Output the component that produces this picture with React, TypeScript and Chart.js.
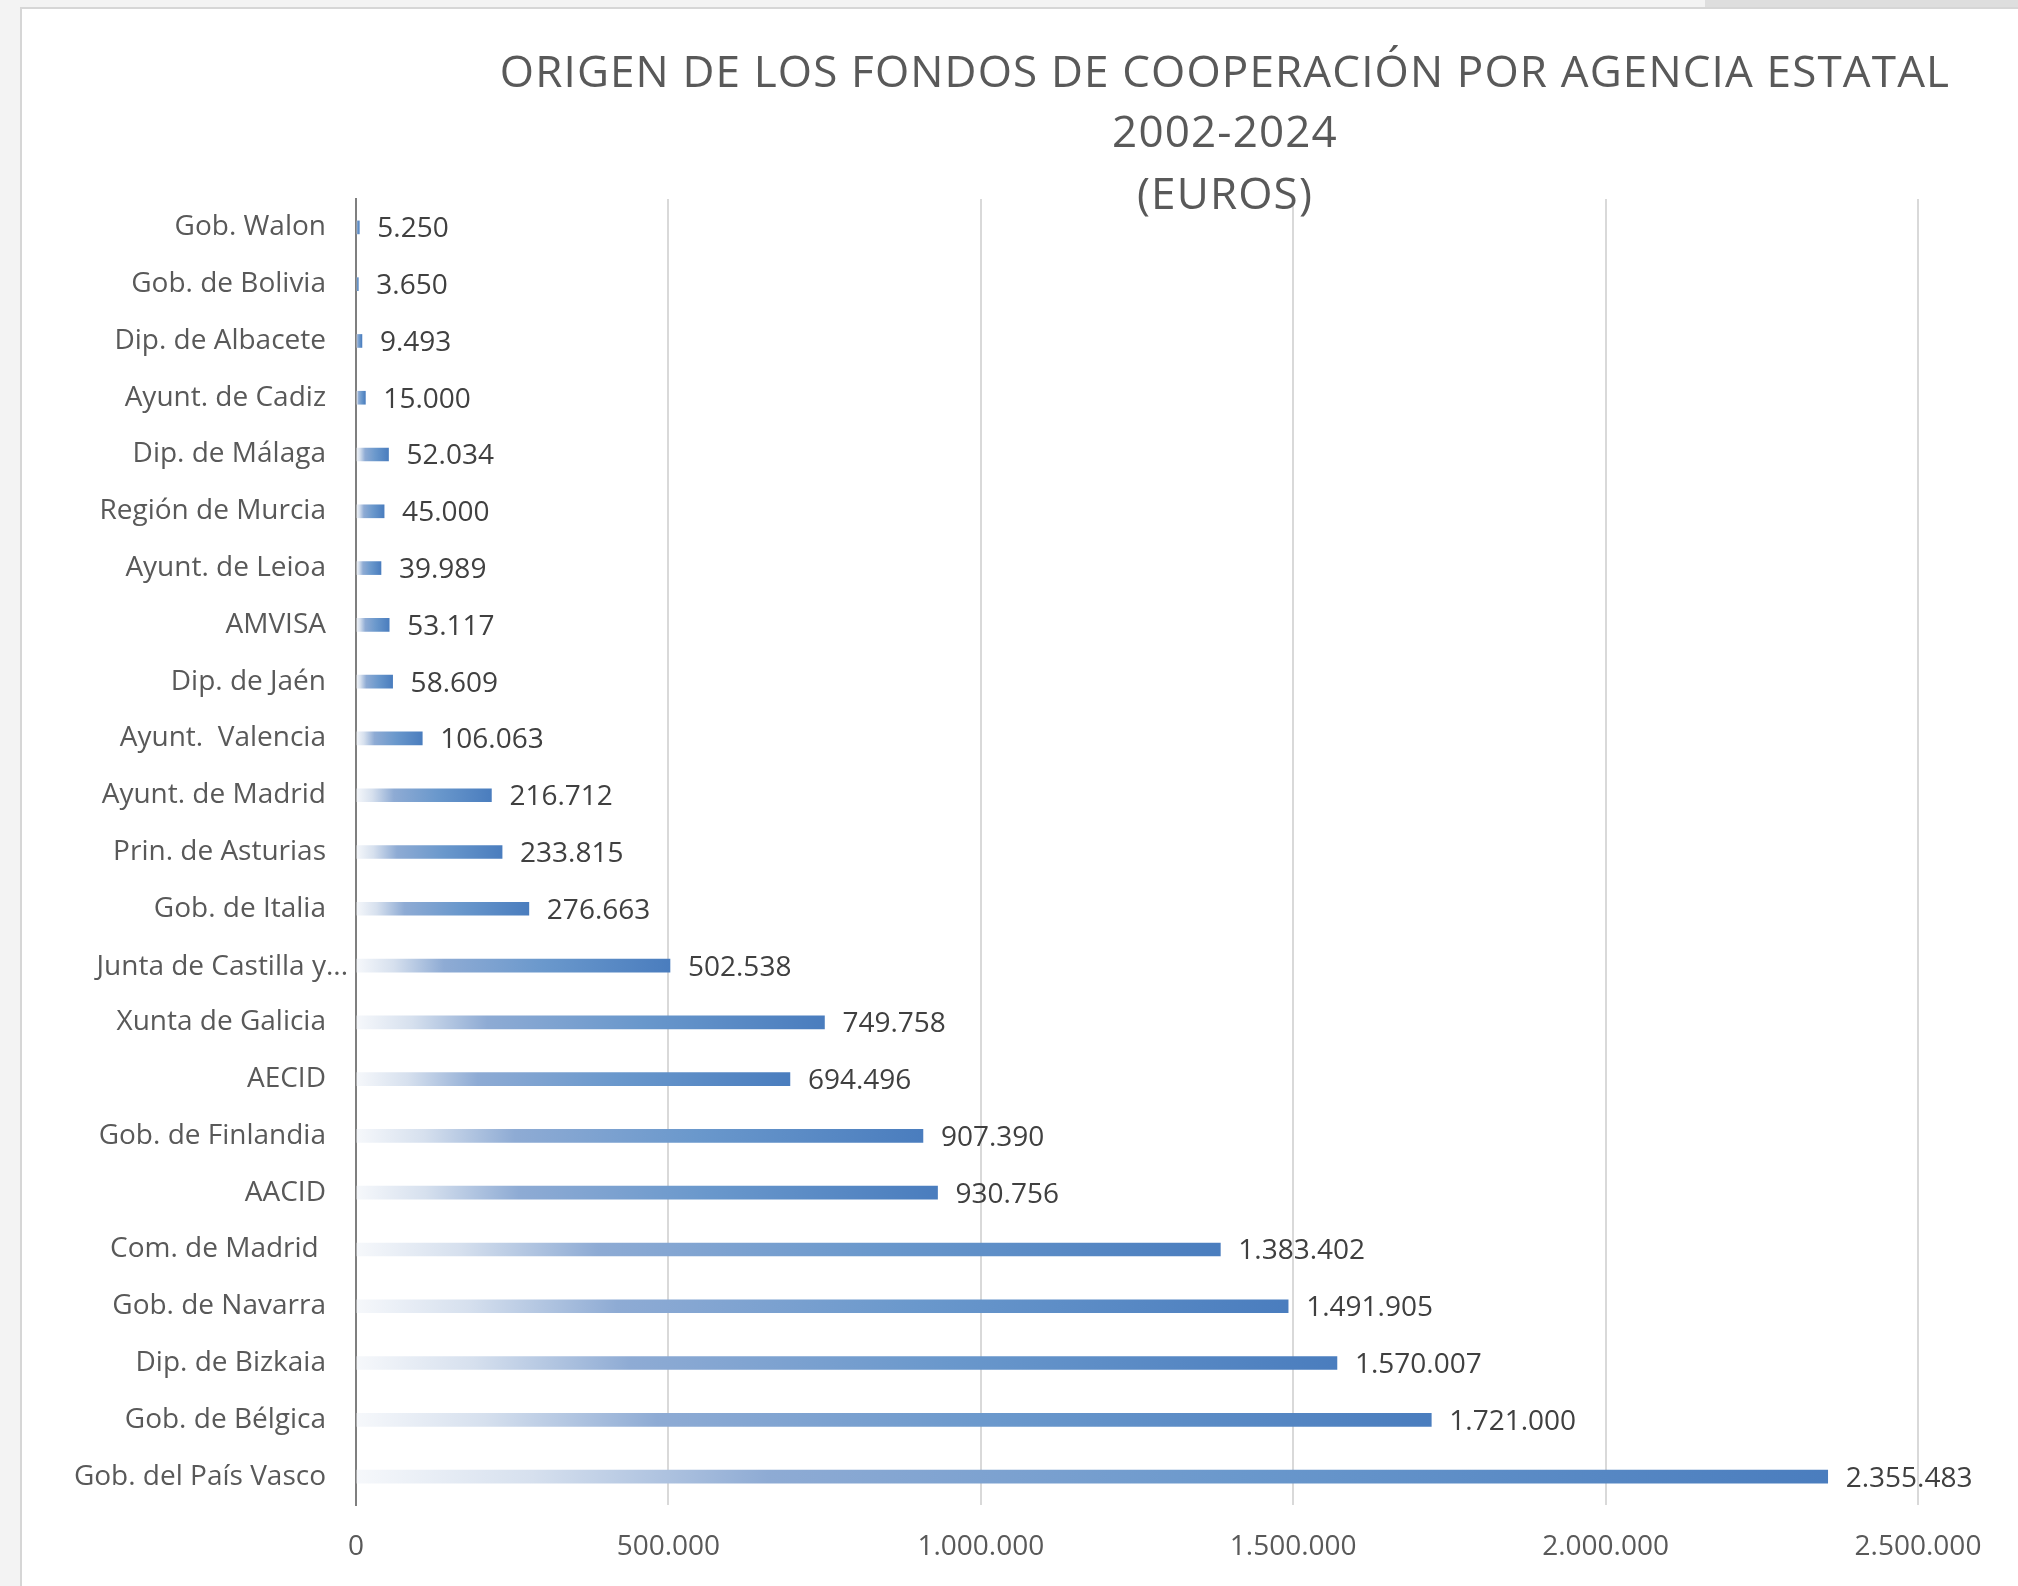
import React, { useEffect, useRef } from 'react';
import { Chart, registerables } from 'chart.js';

Chart.register(...registerables);

const TITLE_LINES = [
  'ORIGEN DE LOS FONDOS DE COOPERACIÓN POR AGENCIA ESTATAL',
  '2002-2024',
  '(EUROS)',
];

const CATEGORIES = [
  'Gob. Walon',
  'Gob. de Bolivia',
  'Dip. de Albacete',
  'Ayunt. de Cadiz',
  'Dip. de Málaga',
  'Región de Murcia',
  'Ayunt. de Leioa',
  'AMVISA',
  'Dip. de Jaén',
  'Ayunt.  Valencia',
  'Ayunt. de Madrid',
  'Prin. de Asturias',
  'Gob. de Italia',
  'Junta de Castilla y...',
  'Xunta de Galicia',
  'AECID',
  'Gob. de Finlandia',
  'AACID',
  'Com. de Madrid ',
  'Gob. de Navarra',
  'Dip. de Bizkaia',
  'Gob. de Bélgica',
  'Gob. del País Vasco',
];

const VALUES = [
  5250, 3650, 9493, 15000, 52034, 45000, 39989, 53117, 58609, 106063,
  216712, 233815, 276663, 502538, 749758, 694496, 907390, 930756,
  1383402, 1491905, 1570007, 1721000, 2355483,
];

const X_TICKS = [0, 500000, 1000000, 1500000, 2000000, 2500000];

const fmt = (n: number) => String(n).replace(/\B(?=(\d{3})+(?!\d))/g, '.');

const FONT = '"Open Sans", "Liberation Sans", sans-serif';
const TRUNCATED = 'Junta de Castilla y...';

const titlePlugin = {
  id: 'customTitle',
  afterDraw(chart: any) {
    const ctx = chart.ctx as any;
    ctx.save();
    ctx.fillStyle = '#595959';
    ctx.textAlign = 'center';
    ctx.textBaseline = 'middle';
    ctx.font = `44px ${FONT}`;
    ctx.letterSpacing = '1.15px';
    const ys = [65, 125, 187];
    TITLE_LINES.forEach((line, i) => {
      ctx.fillText(line, 1203, ys[i]);
    });
    ctx.restore();
  },
};

const labelPlugin = {
  id: 'valueLabels',
  afterDatasetsDraw(chart: any) {
    const ctx = chart.ctx as CanvasRenderingContext2D;
    const meta = chart.getDatasetMeta(0);
    ctx.save();
    ctx.fillStyle = '#404040';
    ctx.font = `28px ${FONT}`;
    ctx.textAlign = 'left';
    ctx.textBaseline = 'middle';
    meta.data.forEach((bar: any, i: number) => {
      ctx.fillText(fmt(VALUES[i]), bar.x + 18, bar.y + 2);
    });
    // truncated category label sits further right (overflowing the label area)
    const ys = chart.scales.y;
    const idx = CATEGORIES.indexOf(TRUNCATED);
    if (idx >= 0) {
      ctx.fillStyle = '#595959';
      ctx.textAlign = 'right';
      ctx.fillText(TRUNCATED, ys.right - 8, ys.getPixelForTick(idx) + 1);
    }
    ctx.restore();
  },
};

function gradientFor(c: any) {
  const chart = c.chart;
  const xs = chart.scales && chart.scales.x;
  if (!xs || c.type !== 'data' || !chart.chartArea) return '#4f81bd';
  const x0 = xs.getPixelForValue(0);
  const x1 = xs.getPixelForValue(c.raw as number);
  if (x1 - x0 < 1) return '#4f81bd';
  const g = chart.ctx.createLinearGradient(x0, 0, x1, 0);
  g.addColorStop(0, '#f6f8fb');
  g.addColorStop(0.12, '#d6e0ee');
  g.addColorStop(0.28, '#8eabd4');
  g.addColorStop(0.6, '#6a98cc');
  g.addColorStop(1, '#4a7dbe');
  return g;
}

export default function App() {
  const canvasRef = useRef<HTMLCanvasElement | null>(null);

  useEffect(() => {
    const canvas = canvasRef.current;
    if (!canvas) return;
    const chart = new Chart(canvas, {
      type: 'bar',
      data: {
        labels: CATEGORIES,
        datasets: [
          {
            data: VALUES,
            backgroundColor: gradientFor as any,
            borderWidth: 0,
            barThickness: 13,
          },
        ],
      },
      options: {
        indexAxis: 'y',
        animation: false,
        responsive: false,
        maintainAspectRatio: false,
        layout: { padding: { top: 190, right: 100, left: 0, bottom: 0 } },
        plugins: {
          legend: { display: false },
          title: { display: false },
          tooltip: { enabled: false },
        },
        scales: {
          x: {
            type: 'linear',
            min: 0,
            max: 2500000,
            afterBuildTicks: (scale: any) => {
              scale.ticks = X_TICKS.map((v) => ({ value: v }));
            },
            afterFit: (scale: any) => {
              scale.height = 81;
            },
            grid: { color: '#d9d9d9', lineWidth: 2, drawTicks: false },
            border: { display: false },
            ticks: {
              padding: 25,
              color: '#595959',
              font: { family: FONT, size: 28 },
              callback: (v: any) => fmt(Number(v)),
              maxRotation: 0,
            },
          },
          y: {
            type: 'category',
            afterFit: (scale: any) => {
              scale.width = 334;
            },
            grid: { display: false, drawTicks: false },
            border: { display: true, color: '#7f7f7f', width: 2 },
            ticks: {
              padding: 30,
              color: '#595959',
              font: { family: FONT, size: 28 },
              autoSkip: false,
              callback: function (this: any, v: any) {
                const lab = this.getLabelForValue(v);
                return lab === TRUNCATED ? '' : lab;
              },
            },
          },
        },
      },
      plugins: [titlePlugin, labelPlugin],
    });
    return () => chart.destroy();
  }, []);

  return (
    <div
      style={{
        position: 'fixed',
        left: 0,
        top: 0,
        width: 2018,
        height: 1586,
        background: '#f3f3f3',
        overflow: 'hidden',
      }}
    >
      <div
        style={{
          position: 'absolute',
          left: 1705,
          top: 0,
          width: 313,
          height: 8,
          background: '#dedede',
        }}
      />
      <div
        style={{
          position: 'absolute',
          left: 20,
          top: 7,
          width: 1998,
          height: 1579,
          background: '#ffffff',
          borderLeft: '2px solid #d6d6d6',
          borderTop: '2px solid #d6d6d6',
          boxSizing: 'border-box',
        }}
      >
        <canvas
          ref={canvasRef}
          width={1996}
          height={1577}
          style={{ display: 'block', width: 1996, height: 1577 }}
        />
      </div>
    </div>
  );
}
